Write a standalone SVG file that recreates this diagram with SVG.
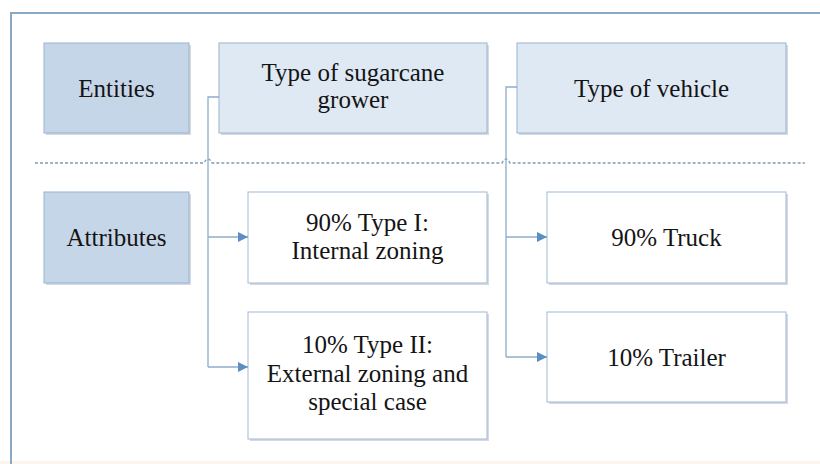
<svg xmlns="http://www.w3.org/2000/svg" width="820" height="464" viewBox="0 0 820 464">
  <defs>
    <marker id="arrow" markerWidth="11" markerHeight="12" refX="10" refY="6" orient="auto" markerUnits="userSpaceOnUse">
      <path d="M0,1 L10,6 L0,11 Z" fill="#5b8ec2"/>
    </marker>
  </defs>
  <style>
    text { font-family: 'Liberation Serif', 'Times New Roman', serif; font-size: 25px; fill: #141414; text-anchor: middle; }
    .shadow { fill: #d6dadf; }
    .label { fill: #c6d6e9; stroke: #97b3d0; stroke-width: 1; }
    .entity { fill: #dfe9f4; stroke: #97b3d0; stroke-width: 1; }
    .attr { fill: #ffffff; stroke: #9fb9d3; stroke-width: 1; }
    .conn { fill: none; stroke: #8eaccb; stroke-width: 1.3; }
    .frame { fill: none; stroke: #8aa8c2; stroke-width: 2; }
    .divider { fill: none; stroke: #7d9dbb; stroke-width: 1.3; stroke-dasharray: 3 2; }
  </style>

  <rect x="0" y="0" width="820" height="464" fill="#ffffff"/>
  <rect x="0" y="461" width="820" height="3" fill="#fdf5ec"/>

  <!-- outer frame: top and left edges -->
  <path class="frame" d="M11,464 V13 H820"/>

  <!-- dashed divider between entities and attributes, with hops over connectors -->
  <path class="divider" d="M35,163 H204 Q208,155 212,163 H502 Q506,155 510,163 H805"/>

  <g id="entities">
    <rect class="shadow" x="46" y="45" width="145" height="90"/>
    <rect class="label" x="44" y="43" width="145" height="90"/>
    <text x="116.5" y="97">Entities</text>
  </g>

  <g id="attributes">
    <rect class="shadow" x="46" y="194" width="145" height="91"/>
    <rect class="label" x="44" y="192" width="145" height="91"/>
    <text x="116.5" y="246">Attributes</text>
  </g>

  <g id="grower">
    <rect class="shadow" x="221" y="45" width="268" height="90"/>
    <rect class="entity" x="219" y="43" width="268" height="90"/>
    <text x="353" y="81">Type of sugarcane</text>
    <text x="353" y="108">grower</text>
  </g>

  <g id="vehicle">
    <rect class="shadow" x="519" y="45" width="269" height="90"/>
    <rect class="entity" x="517" y="43" width="269" height="90"/>
    <text x="651.5" y="97">Type of vehicle</text>
  </g>

  <g id="type1">
    <rect class="shadow" x="250" y="194" width="239" height="91"/>
    <rect class="attr" x="248" y="192" width="239" height="91"/>
    <text x="367.5" y="231">90% Type I:</text>
    <text x="367.5" y="259">Internal zoning</text>
  </g>

  <g id="type2">
    <rect class="shadow" x="250" y="314" width="239" height="127"/>
    <rect class="attr" x="248" y="312" width="239" height="127"/>
    <text x="367.5" y="353">10% Type II:</text>
    <text x="367.5" y="382">External zoning and</text>
    <text x="367.5" y="410">special case</text>
  </g>

  <g id="truck">
    <rect class="shadow" x="549" y="194" width="239" height="91"/>
    <rect class="attr" x="547" y="192" width="239" height="91"/>
    <text x="666.5" y="246">90% Truck</text>
  </g>

  <g id="trailer">
    <rect class="shadow" x="549" y="314" width="239" height="90"/>
    <rect class="attr" x="547" y="312" width="239" height="90"/>
    <text x="666.5" y="366">10% Trailer</text>
  </g>

  <g id="connectors">
    <path class="conn" d="M219,97 H208 V367"/>
    <path class="conn" d="M208,237 H248" marker-end="url(#arrow)"/>
    <path class="conn" d="M208,367 H248" marker-end="url(#arrow)"/>
    <path class="conn" d="M517,87 H506 V357"/>
    <path class="conn" d="M506,237 H547" marker-end="url(#arrow)"/>
    <path class="conn" d="M506,357 H547" marker-end="url(#arrow)"/>
  </g>
</svg>
